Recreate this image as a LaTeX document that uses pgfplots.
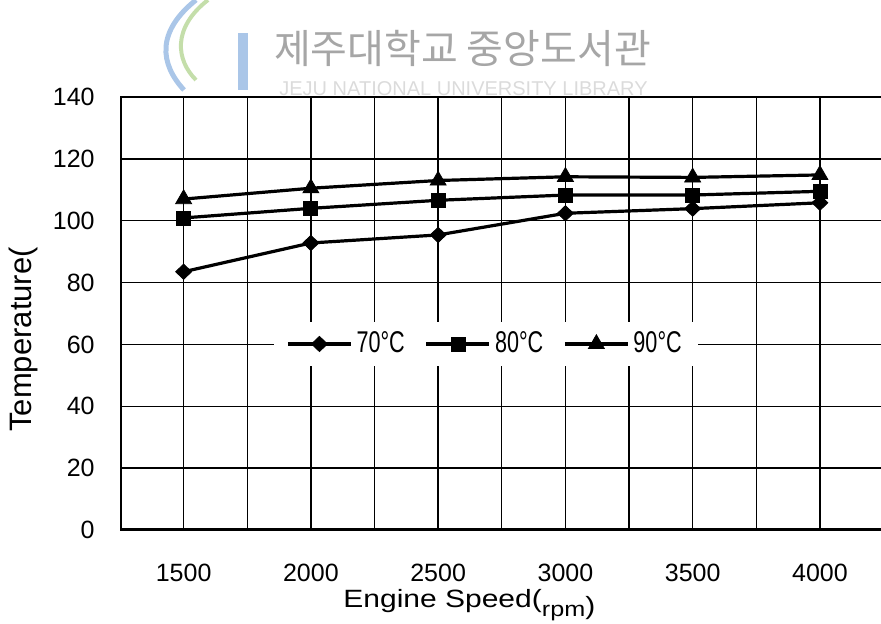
\documentclass[border=0pt]{standalone}
\usepackage{fontspec}
\setmainfont{Liberation Sans}
\newfontfamily\widefont[FakeStretch=1.2]{Liberation Sans}
\newfontfamily\narrowfont[FakeStretch=0.72]{Liberation Sans}
\newfontfamily\cjk{Noto Sans CJK KR}
\usepackage{pgfplots}
\pgfplotsset{compat=1.18}
\definecolor{logoblue}{RGB}{170,198,232}
\definecolor{logogreen}{RGB}{196,222,170}

\begin{document}
\begin{tikzpicture}
\useasboundingbox (0,0) rectangle (440.5pt,312pt);
% watermark
\draw[line width=2.5pt, color=logoblue] (98pt,312pt) .. controls (78pt,296pt) and (80pt,280pt) .. (92pt,267pt);
\draw[line width=2pt, color=logogreen] (104pt,312pt) .. controls (86pt,298pt) and (88pt,282pt) .. (98pt,272pt);
\fill[logoblue] (119pt,267pt) rectangle (124pt,295.5pt);
\node[inner sep=0pt, text=black!35] at (231.25pt,287.75pt) {\cjk\fontsize{20}{24}\selectfont 제주대학교 중앙도서관};
\node[inner sep=0pt, text=black!14] at (231.75pt,267.75pt) {\fontsize{10}{12}\selectfont JEJU NATIONAL UNIVERSITY LIBRARY};

\begin{axis}[
  at={(60pt,47pt)}, anchor=south west, scale only axis,
  width=380.5pt, height=216.5pt,
  xmin=1250, xmax=4240, ymin=0, ymax=140,
  xtick={1500,2000,...,4000}, minor xtick={1750,2250,...,3750},
  ytick={0,20,...,140},
  xmajorgrids, xminorgrids, ymajorgrids,
  major grid style={black, line width=0.7pt},
  minor grid style={black, line width=0.7pt},
  axis line style={draw=none},
  major tick length=0pt, minor tick length=0pt,
  tick label style={font=\fontsize{12.5}{14}\selectfont},
  /pgf/number format/assume math mode=true,
  /pgf/number format/1000 sep={},
  xticklabel style={anchor=center, yshift=-21.25pt},
  yticklabel style={anchor=east, inner sep=0pt, xshift=-12.5pt},
  legend style={at={(rel axis cs:0.481,0.4296)}, anchor=center, draw=none, fill=white,
    font={\narrowfont\fontsize{15}{18}\selectfont},
    /tikz/every even column/.append style={column sep=8pt},
    inner xsep=6pt, inner ysep=3pt},
  legend columns=-1,
  legend image code/.code={\draw[mark repeat=2, mark phase=2] plot coordinates {(0pt,0pt) (15.75pt,0pt) (31.5pt,0pt)};},
]
\addplot[black, line width=1.6pt, mark=diamond*, mark size=3.8pt, mark options={solid, line width=0.4pt, xscale=1.4}]
  coordinates {(1500,83.5) (2000,92.8) (2500,95.4) (3000,102.4) (3500,103.9) (4000,105.8)};
\addlegendentry{70°C}
\addplot[black, line width=1.6pt, mark=square*, mark size=3.5pt, mark options={solid, line width=0.4pt}]
  coordinates {(1500,100.9) (2000,104.0) (2500,106.6) (3000,108.3) (3500,108.3) (4000,109.5)};
\addlegendentry{80°C}
\addplot[black, line width=1.6pt, mark=triangle*, mark size=4.6pt, mark options={solid, line width=0.4pt}]
  coordinates {(1500,107.0) (2000,110.5) (2500,113.0) (3000,114.2) (3500,114.0) (4000,114.8)};
\addlegendentry{90°C}
\draw[line width=1.5pt, line cap=rect] (rel axis cs:1,1) -- (rel axis cs:0,1) -- (rel axis cs:0,0) -- (rel axis cs:1,0);
\end{axis}

\node[rotate=90, anchor=base west, inner sep=0pt] at (16pt,96pt) {\fontsize{15.5}{18}\selectfont Temperature(};
\node[anchor=base west, inner sep=0pt] at (171.5pt,8pt) {\widefont\fontsize{12.5}{14}\selectfont Engine Speed(\raisebox{-0.35em}{\fontsize{10.5}{12}\selectfont rpm}\raisebox{-0.25em}{)}};
\end{tikzpicture}
\end{document}
